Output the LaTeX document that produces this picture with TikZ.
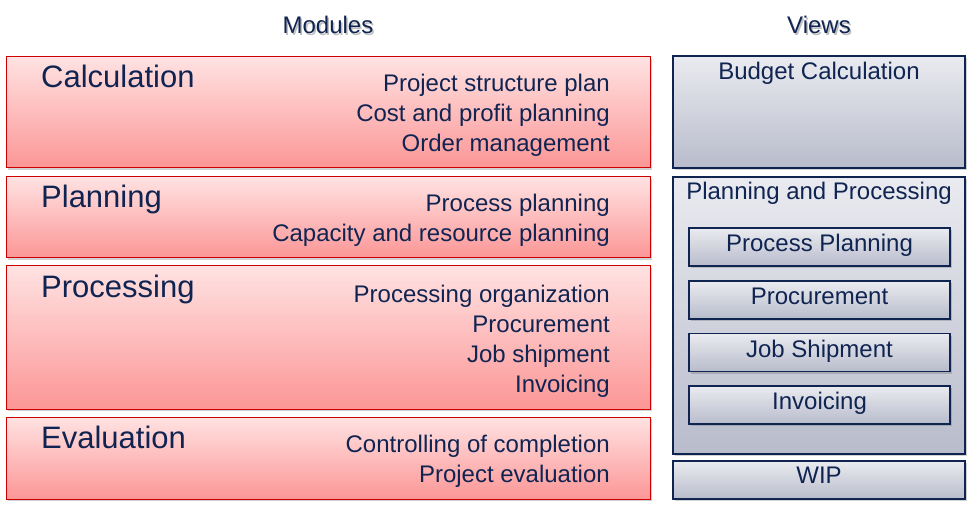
\documentclass[tikz,border=0pt]{standalone}
\usepackage{fontspec}
\setmainfont{Liberation Sans}
\usetikzlibrary{shadows}
\definecolor{navy}{RGB}{16,36,82}
\definecolor{modred}{RGB}{204,0,0}
\definecolor{modtop}{RGB}{255,226,226}
\definecolor{modbot}{RGB}{252,150,150}
\definecolor{viewtop}{RGB}{234,235,240}
\definecolor{viewbot}{RGB}{184,188,203}
\begin{document}
\begin{tikzpicture}[x=1pt, y=-1pt,
  every node/.style = {inner sep=0pt, text=navy},
  boxshadow/.style = {drop shadow={shadow xshift=1.5pt, shadow yshift=-2pt,
    opacity=.3, fill=black!60}},
  module/.style = {draw=modred, line width=1pt, top color=modtop,
    bottom color=modbot, minimum width=644pt, boxshadow},
  view/.style = {draw=navy, line width=1.2pt, top color=viewtop,
    bottom color=viewbot, minimum width=292pt, boxshadow},
  subview/.style = {view, minimum width=261pt, minimum height=38pt},
  title/.style = {font=\fontsize{31}{36}\selectfont, anchor=base west, yshift=-1pt},
  item/.style = {font=\fontsize{24}{30}\selectfont, anchor=base east, yshift=-1pt},
  caption/.style = {font=\fontsize{24}{30}\selectfont, anchor=base, yshift=-1pt}]
  \useasboundingbox (0,0) rectangle (971,510);
  % headings
  \node[caption, text=black!25] (mod-shadow) at (329.5,34.5) {Modules};
  \node[caption] (modules) at (328,33) {Modules};
  \node[caption, text=black!25] (view-shadow) at (820.5,34.5) {Views};
  \node[caption] (views) at (819,33) {Views};
  % modules
  \node[module, minimum height=111pt] (calc) at (328,112.5) {};
  \node[title] (calc-title) at (41,87) {Calculation};
  \foreach \txt [count=\i from 0] in {Project structure plan,
      Cost and profit planning, Order management}
    \node[item] (calc-\i) at (610,91+30*\i) {\txt};
  \node[module, minimum height=81pt] (plan) at (328,217.5) {};
  \node[title] (plan-title) at (41,207) {Planning};
  \foreach \txt [count=\i from 0] in {Process planning,
      Capacity and resource planning}
    \node[item] (plan-\i) at (610,211+30*\i) {\txt};
  \node[module, minimum height=143pt] (proc) at (328,337.5) {};
  \node[title] (proc-title) at (41,297) {Processing};
  \foreach \txt [count=\i from 0] in {Processing organization,
      Procurement, Job shipment, Invoicing}
    \node[item] (proc-\i) at (610,301+30*\i) {\txt};
  \node[module, minimum height=82pt] (eval) at (328,458) {};
  \node[title] (eval-title) at (41,447) {Evaluation};
  \foreach \txt [count=\i from 0] in {Controlling of completion,
      Project evaluation}
    \node[item] (eval-\i) at (610,451+30*\i) {\txt};
  % views
  \node[view, minimum height=112pt] (budget) at (819,112) {};
  \node[caption] (budget-text) at ([yshift=-23pt]budget.north) {Budget Calculation};
  \node[view, minimum height=277pt] (pp) at (819,315.5) {};
  \node[caption] (pp-text) at ([yshift=-22pt]pp.north) {Planning and Processing};
  \foreach \txt/\y [count=\i] in {Process Planning/247, Procurement/300,
      Job Shipment/352.5, Invoicing/405}
    \node[subview] (sub-\i) at (819.5,\y) {}
      node[caption] (sub-text-\i) at ([yshift=-23.5pt]sub-\i.north) {\txt};
  \node[view, minimum height=38pt] (wip) at (819,480) {};
  \node[caption] (wip-text) at ([yshift=-22pt]wip.north) {WIP};
\end{tikzpicture}
\end{document}
